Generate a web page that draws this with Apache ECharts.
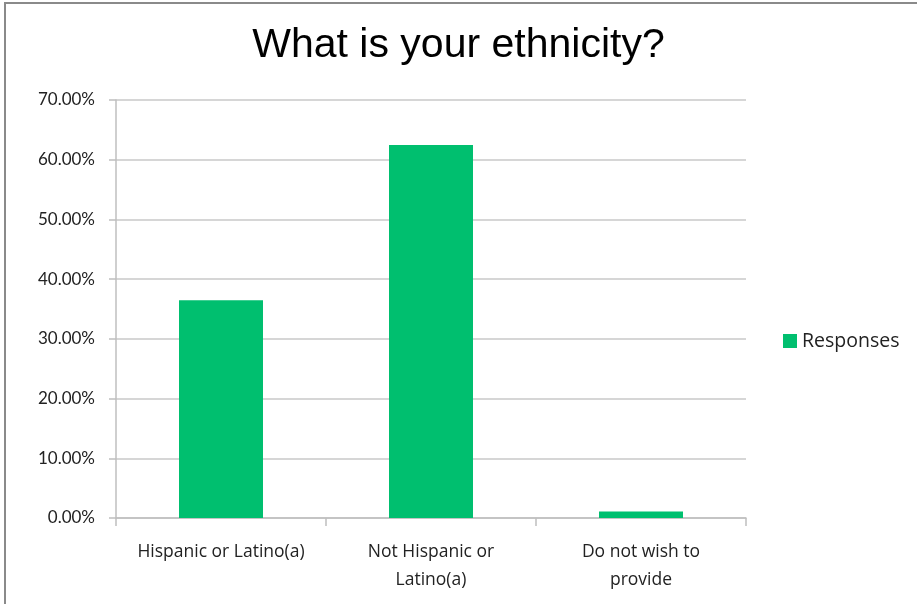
<!DOCTYPE html>
<html>
<head>
<meta charset="utf-8">
<script src="https://cdn.jsdelivr.net/npm/echarts@6/dist/echarts.min.js"></script>
<style>html,body{margin:0;padding:0;background:#fff;}#c{width:917px;height:604px;}</style>
</head>
<body>
<div id="c"></div>
<script>
var categories = ["Hispanic or Latino(a)", "Not Hispanic or Latino(a)", "Do not wish to provide"];
var tickLabels = ["Hispanic or Latino(a)", "Not Hispanic or\nLatino(a)", "Do not wish to\nprovide"];
var responses = [0.3645, 0.6245, 0.011];
var seriesName = "Responses";

var chart = echarts.init(document.getElementById('c'));
chart.setOption({
  animation: false,
  backgroundColor: '#ffffff',
  title: {
    text: 'What is your ethnicity?',
    left: 'center',
    top: 20,
    textStyle: { fontFamily: 'Liberation Sans', fontSize: 41, fontWeight: 'normal', color: '#000' }
  },
  graphic: [{
    type: 'rect',
    shape: { x: 5, y: 3, width: 1000, height: 1000 },
    style: { fill: 'none', stroke: '#8a8a8a', lineWidth: 2 },
    silent: true
  }],
  legend: {
    data: [seriesName],
    left: 783,
    top: 331,
    padding: 0,
    icon: 'rect',
    itemWidth: 14,
    itemHeight: 14,
    itemGap: 5,
    textStyle: { fontFamily: 'Open Sans', fontSize: 19.5, color: '#222' }
  },
  grid: { left: 116, right: 171, top: 100, bottom: 86 },
  xAxis: {
    type: 'category',
    data: categories,
    axisLine: { lineStyle: { color: '#bfbfbf', width: 1.5 } },
    axisTick: { show: true, interval: 0, length: 8, lineStyle: { color: '#bfbfbf', width: 1.5 } },
    axisLabel: {
      interval: 0,
      hideOverlap: false,
      margin: 20,
      lineHeight: 28,
      fontFamily: 'Open Sans', fontSize: 17.5, color: '#222',
      formatter: function (v, i) { return tickLabels[i]; }
    }
  },
  yAxis: {
    type: 'value',
    min: 0, max: 0.7, interval: 0.1,
    axisLine: { show: true, lineStyle: { color: '#bfbfbf', width: 1.5 } },
    axisTick: { show: true, length: 7, lineStyle: { color: '#bfbfbf', width: 1.5 } },
    splitLine: { lineStyle: { color: '#c8c8c8', width: 1.5 } },
    axisLabel: {
      margin: 21,
      fontFamily: 'Lato', fontSize: 17, color: '#222',
      formatter: function (v) { return (v * 100).toFixed(2) + '%'; }
    }
  },
  series: [{
    name: seriesName,
    type: 'bar',
    data: responses,
    barWidth: '40%',
    itemStyle: { color: '#00bf6f' }
  }]
});
</script>
</body>
</html>
